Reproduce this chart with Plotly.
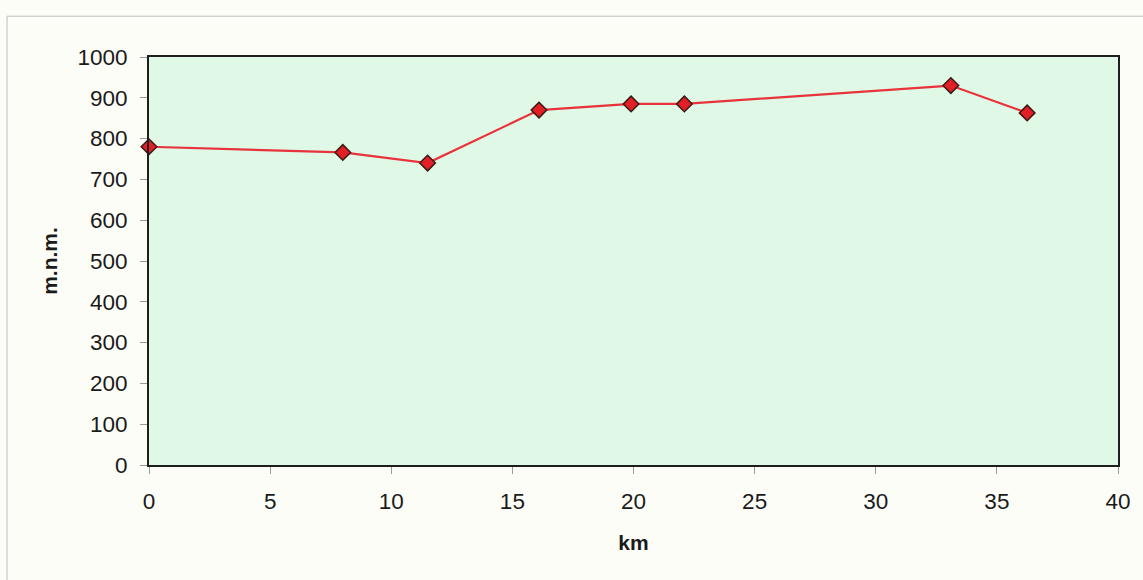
import plotly.graph_objects as go

# Elevation profile along the route
km = [0, 8.0, 11.5, 16.1, 19.9, 22.1, 33.1, 36.25]
elevation = [780, 766, 740, 870, 885, 885, 930, 863]

x_ticks = [0, 5, 10, 15, 20, 25, 30, 35, 40]
y_ticks = [0, 100, 200, 300, 400, 500, 600, 700, 800, 900, 1000]

FONT = "Liberation Sans, Arial, sans-serif"

fig = go.Figure()
fig.add_trace(go.Scatter(
    x=km, y=elevation,
    mode="lines+markers",
    cliponaxis=False,
    line=dict(color="#e8323c", width=2.2),
    marker=dict(symbol="diamond", size=12, color="#e21f26",
                line=dict(color="#3a1a14", width=1.5)),
    showlegend=False,
))

axis_common = dict(
    showgrid=False, zeroline=False,
    showline=True, linecolor="#1e1e1e", linewidth=2, mirror=True,
    ticks="outside", ticklen=7, tickcolor="#9a9a9a", tickwidth=1,
    tickfont=dict(family=FONT, size=22.5, color="#1a1a1a"),
)

fig.update_layout(
    width=1143, height=580,
    margin=dict(l=149, r=22, t=57, b=115),
    paper_bgcolor="#fdfdf8",
    plot_bgcolor="#e0f8e6",
    font=dict(family=FONT),
    xaxis=dict(range=[0, 40], tickvals=x_ticks, ticklabelstandoff=8,
               title=dict(text="<b>km</b>", font=dict(family=FONT, size=21, color="#1a1a1a"),
                          standoff=22),
               **axis_common),
    yaxis=dict(range=[0, 1000], tickvals=y_ticks, ticklabelstandoff=8,
               title=dict(text="<b>m.n.m.</b>", font=dict(family=FONT, size=21, color="#1a1a1a"),
                          standoff=14),
               **axis_common),
    shapes=[
        # outer chart frame (top and left edges)
        dict(type="line", xref="paper", yref="paper", x0=-0.1465, x1=1.03, y0=1.1, y1=1.1,
             line=dict(color="#bdbdbd", width=1)),
        dict(type="line", xref="paper", yref="paper", x0=-0.1465, x1=-0.1465, y0=-0.3, y1=1.1,
             line=dict(color="#bdbdbd", width=1)),
    ],
)

fig.write_html("out.html")
